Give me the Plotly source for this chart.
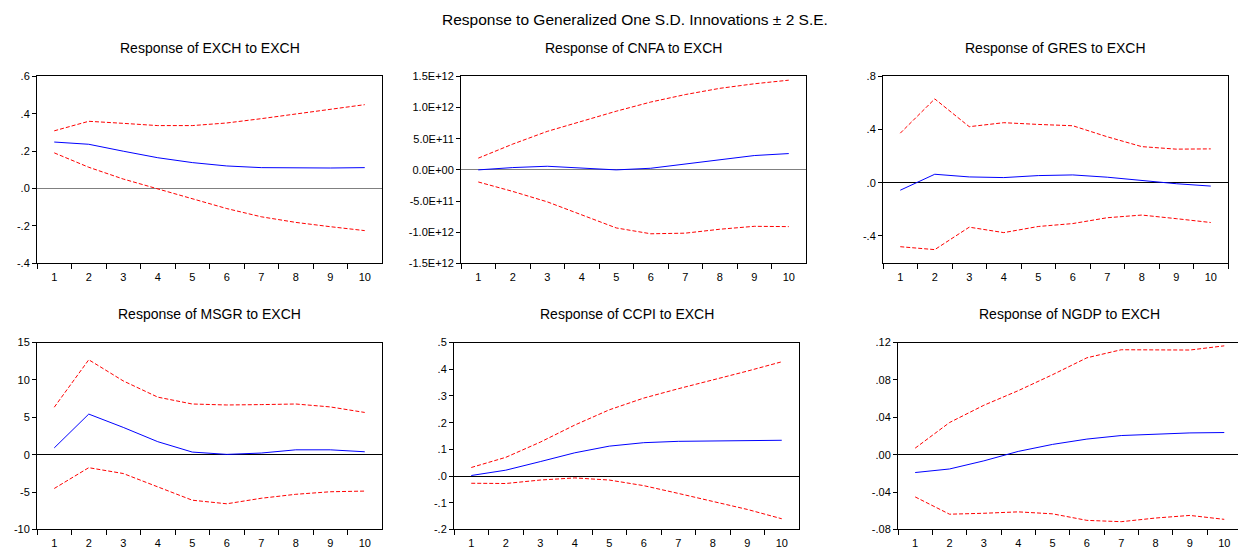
import plotly.graph_objects as go

W, H = 1238, 555

periods = ["1", "2", "3", "4", "5", "6", "7", "8", "9", "10"]

# Response of EXCH to EXCH
exch_resp = [0.249, 0.237, 0.200, 0.165, 0.139, 0.121, 0.112, 0.109, 0.110, 0.112]
exch_up = [0.309, 0.360, 0.349, 0.337, 0.337, 0.351, 0.374, 0.400, 0.423, 0.449]
exch_lo = [0.191, 0.114, 0.051, -0.002, -0.054, -0.107, -0.151, -0.181, -0.204, -0.225]

# Response of CNFA to EXCH
cnfa_resp = [0.0, 0.037e12, 0.058e12, 0.026e12, 0.0, 0.026e12, 0.094e12, 0.173e12, 0.230e12, 0.262e12]
cnfa_up = [0.188e12, 0.414e12, 0.618e12, 0.785e12, 0.942e12, 1.089e12, 1.209e12, 1.309e12, 1.382e12, 1.440e12]
cnfa_lo = [-0.194e12, -0.346e12, -0.513e12, -0.723e12, -0.932e12, -1.026e12, -1.016e12, -0.953e12, -0.906e12, -0.911e12]

# Response of GRES to EXCH
gres_resp = [-0.056, 0.064, 0.044, 0.039, 0.054, 0.059, 0.042, 0.015, -0.007, -0.025]
gres_up = [0.373, 0.631, 0.422, 0.452, 0.439, 0.429, 0.346, 0.272, 0.253, 0.255]
gres_lo = [-0.481, -0.503, -0.334, -0.375, -0.329, -0.307, -0.263, -0.243, -0.270, -0.299]

# Response of MSGR to EXCH
msgr_resp = [0.91, 5.43, 3.65, 1.74, 0.35, 0.04, 0.22, 0.65, 0.65, 0.39]
msgr_up = [6.35, 12.7, 9.87, 7.70, 6.78, 6.65, 6.70, 6.78, 6.39, 5.65]
msgr_lo = [-4.52, -1.74, -2.52, -4.35, -6.09, -6.57, -5.83, -5.30, -4.96, -4.87]

# Response of CCPI to EXCH
ccpi_resp = [0.002, 0.022, 0.054, 0.087, 0.112, 0.125, 0.130, 0.132, 0.132, 0.134]
ccpi_up = [0.032, 0.070, 0.127, 0.191, 0.248, 0.292, 0.327, 0.359, 0.393, 0.428]
ccpi_lo = [-0.027, -0.028, -0.015, -0.007, -0.015, -0.036, -0.065, -0.094, -0.125, -0.160]

# Response of NGDP to EXCH
ngdp_resp = [-0.0191, -0.0153, -0.0066, 0.0035, 0.0110, 0.0167, 0.0205, 0.0223, 0.0233, 0.0237]
ngdp_up = [0.0070, 0.0344, 0.0529, 0.0685, 0.0856, 0.1037, 0.1123, 0.1123, 0.1120, 0.1165]
ngdp_lo = [-0.0452, -0.0637, -0.0627, -0.0612, -0.0633, -0.0703, -0.0717, -0.0678, -0.0650, -0.0692]

titles = ["Response of EXCH to EXCH", "Response of CNFA to EXCH", "Response of GRES to EXCH",
          "Response of MSGR to EXCH", "Response of CCPI to EXCH", "Response of NGDP to EXCH"]

tick_vals = [
    [-0.4, -0.2, 0.0, 0.2, 0.4, 0.6],
    [-1.5e12, -1.0e12, -0.5e12, 0.0, 0.5e12, 1.0e12, 1.5e12],
    [-0.4, 0.0, 0.4, 0.8],
    [-10, -5, 0, 5, 10, 15],
    [-0.2, -0.1, 0.0, 0.1, 0.2, 0.3, 0.4, 0.5],
    [-0.08, -0.04, 0.0, 0.04, 0.08, 0.12],
]
tick_text = [
    ["-.4", "-.2", ".0", ".2", ".4", ".6"],
    ["-1.5E+12", "-1.0E+12", "-5.0E+11", "0.0E+00", "5.0E+11", "1.0E+12", "1.5E+12"],
    ["-.4", ".0", ".4", ".8"],
    ["-10", "-5", "0", "5", "10", "15"],
    ["-.2", "-.1", ".0", ".1", ".2", ".3", ".4", ".5"],
    ["-.08", "-.04", ".00", ".04", ".08", ".12"],
]
y_ranges = [[-0.4, 0.6], [-1.5e12, 1.5e12], [-0.606, 0.8], [-10, 15], [-0.2, 0.5], [-0.08, 0.12]]

series = [
    (exch_resp, exch_up, exch_lo),
    (cnfa_resp, cnfa_up, cnfa_lo),
    (gres_resp, gres_up, gres_lo),
    (msgr_resp, msgr_up, msgr_lo),
    (ccpi_resp, ccpi_up, ccpi_lo),
    (ngdp_resp, ngdp_up, ngdp_lo),
]

# pixel boxes: left, right, top, bottom
boxes = [
    (37, 382, 72, 263),
    (461, 806, 72, 263),
    (883, 1228, 72, 263),
    (37, 382, 344, 535),
    (454, 799, 344, 535),
    (898, 1238, 344, 535),
]
x_ranges = [[-0.5, 9.5]] * 5 + [[-0.5, 9.4]]
zero_colors = ["#808080", "#808080", "black", "black", "black", "black"]
title_centers = [210, 633, 1055, 210, 627, 1069]

FONT = "Liberation Sans, Arial, sans-serif"
fig = go.Figure()
layout = dict(
    width=W, height=H, margin=dict(l=0, r=0, t=0, b=0),
    paper_bgcolor="white", plot_bgcolor="white", showlegend=False,
    font=dict(family=FONT, size=11, color="black"),
    annotations=[],
)

for i, ((resp, up, lo), box) in enumerate(zip(series, boxes)):
    n = i + 1
    xa = "x" if n == 1 else f"x{n}"
    ya = "y" if n == 1 else f"y{n}"
    fig.add_trace(go.Scatter(x=periods, y=up, mode="lines", xaxis=xa, yaxis=ya,
                             line=dict(color="#FF0000", width=1, dash="4px,2px")))
    fig.add_trace(go.Scatter(x=periods, y=lo, mode="lines", xaxis=xa, yaxis=ya,
                             line=dict(color="#FF0000", width=1, dash="4px,2px")))
    fig.add_trace(go.Scatter(x=periods, y=resp, mode="lines", xaxis=xa, yaxis=ya,
                             line=dict(color="#0000FF", width=1)))
    l, r, t, b = box
    xkey = "xaxis" if n == 1 else f"xaxis{n}"
    ykey = "yaxis" if n == 1 else f"yaxis{n}"
    layout[xkey] = dict(
        domain=[l / W, r / W], anchor=ya, type="category", range=x_ranges[i],
        tickson="boundaries", ticks="outside", ticklen=5, tickcolor="black", tickwidth=1,
        ticklabelstandoff=3,
        showline=True, linecolor="black", linewidth=1, mirror=True,
        showgrid=False, zeroline=False, tickfont=dict(size=11, family=FONT),
    )
    layout[ykey] = dict(
        domain=[1 - b / H, 1 - t / H], anchor=xa, range=y_ranges[i],
        tickvals=tick_vals[i], ticktext=tick_text[i],
        ticks="outside", ticklen=4, tickcolor="black", tickwidth=1,
        showline=True, linecolor="black", linewidth=1, mirror=(n != 6),
        showgrid=False, zeroline=True, zerolinecolor=zero_colors[i], zerolinewidth=1,
        tickfont=dict(size=11, family=FONT),
    )
    layout["annotations"].append(dict(
        text=titles[i], xref="paper", yref="paper",
        x=title_centers[i] / W, y=1 - (t - 29) / H, xanchor="center", yanchor="middle",
        showarrow=False, font=dict(size=14, family=FONT, color="black"),
    ))

layout["annotations"].append(dict(
    text="Response to Generalized One S.D. Innovations \u00b1 2 S.E.", xref="paper", yref="paper",
    x=635 / W, y=1 - 14 / H, xanchor="center", yanchor="middle",
    showarrow=False, font=dict(size=15.5, family=FONT, color="black"),
))

fig.update_layout(**layout)
fig.write_html("out.html")
